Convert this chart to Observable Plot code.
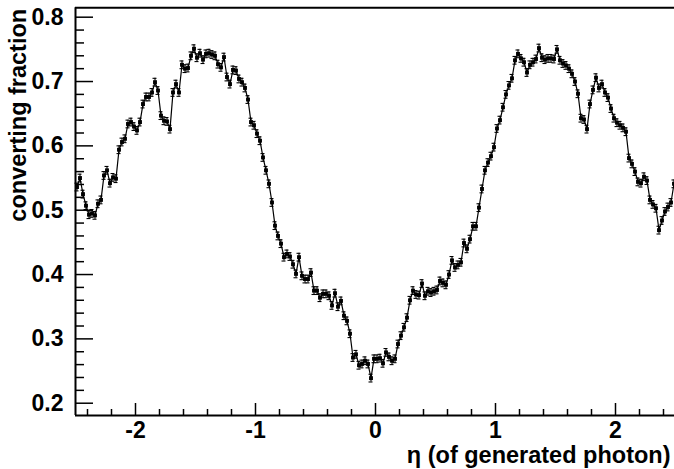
<!DOCTYPE html>
<html>
<head>
<meta charset="utf-8">
<script src="https://cdn.jsdelivr.net/npm/d3@7"></script>
<script src="https://cdn.jsdelivr.net/npm/@observablehq/plot@0.6"></script>
<style>
  html, body { margin: 0; padding: 0; background: #fff; overflow: hidden; }
  svg { display: block; }
</style>
</head>
<body>
<div id="chart"></div>
<script>
// Histogram binning in eta: 200 bins from -2.5 to 2.5
const binLow = -2.5;
const binWidth = 0.025;

// Converting fraction per eta bin
const fraction = [
  0.536, 0.550, 0.525, 0.507, 0.493, 0.495, 0.492, 0.510, 0.516, 0.554,
  0.562, 0.542, 0.551, 0.549, 0.594, 0.606, 0.611, 0.634, 0.637, 0.630,
  0.624, 0.637, 0.665, 0.676, 0.676, 0.683, 0.699, 0.686, 0.647, 0.639,
  0.638, 0.626, 0.683, 0.696, 0.683, 0.726, 0.720, 0.721, 0.740, 0.751,
  0.737, 0.744, 0.734, 0.743, 0.744, 0.742, 0.740, 0.727, 0.722, 0.738,
  0.707, 0.696, 0.718, 0.717, 0.704, 0.699, 0.690, 0.672, 0.637, 0.632,
  0.619, 0.608, 0.582, 0.562, 0.541, 0.512, 0.476, 0.460, 0.448, 0.427,
  0.432, 0.428, 0.416, 0.401, 0.427, 0.398, 0.393, 0.393, 0.403, 0.375,
  0.375, 0.364, 0.370, 0.370, 0.367, 0.352, 0.371, 0.350, 0.359, 0.336,
  0.328, 0.308, 0.271, 0.276, 0.259, 0.261, 0.266, 0.261, 0.239, 0.269,
  0.269, 0.270, 0.262, 0.279, 0.272, 0.266, 0.269, 0.292, 0.305, 0.318,
  0.333, 0.360, 0.375, 0.369, 0.368, 0.386, 0.367, 0.374, 0.372, 0.374,
  0.376, 0.390, 0.387, 0.384, 0.400, 0.422, 0.411, 0.415, 0.419, 0.449,
  0.440, 0.455, 0.475, 0.475, 0.504, 0.533, 0.562, 0.574, 0.584, 0.598,
  0.627, 0.640, 0.660, 0.680, 0.694, 0.705, 0.733, 0.743, 0.736, 0.730,
  0.714, 0.726, 0.730, 0.735, 0.752, 0.737, 0.734, 0.736, 0.736, 0.735,
  0.750, 0.733, 0.728, 0.725, 0.720, 0.712, 0.700, 0.681, 0.643, 0.641,
  0.626, 0.665, 0.687, 0.706, 0.690, 0.696, 0.683, 0.675, 0.658, 0.643,
  0.636, 0.632, 0.628, 0.622, 0.581, 0.572, 0.560, 0.544, 0.542, 0.552,
  0.546, 0.516, 0.509, 0.503, 0.469, 0.484, 0.498, 0.505, 0.512, 0.541
];

// Statistical uncertainty (half-width of the error bars)
const errHalf = 0.006;

// Axis ticks
const xMajor = [-2, -1, 0, 1, 2];
const xMinor = [-2.4, -2.2, -1.8, -1.6, -1.4, -1.2, -0.8, -0.6, -0.4, -0.2,
                0.2, 0.4, 0.6, 0.8, 1.2, 1.4, 1.6, 1.8, 2.2, 2.4];
const yMajor = [0.2, 0.3, 0.4, 0.5, 0.6, 0.7, 0.8];
const yMinor = [0.22, 0.24, 0.26, 0.28, 0.32, 0.34, 0.36, 0.38, 0.42, 0.44, 0.46, 0.48,
                0.52, 0.54, 0.56, 0.58, 0.62, 0.64, 0.66, 0.68, 0.72, 0.74, 0.76, 0.78];

const xTitle = "η (of generated photon)";
const yTitle = "converting fraction";

const points = fraction.map((v, i) => ({eta: binLow + binWidth * (i + 0.5), v}));

const width = 674, height = 469;
const marginTop = 7.3, marginBottom = 54, marginLeft = 75;
const xDomain = [-2.5, 2.5];
const yDomain = [0.1809, 0.8146];

// pixel -> data conversions for inward tick lengths
const xPerPx = (xDomain[1] - xDomain[0]) / 600;
const yPerPx = (yDomain[1] - yDomain[0]) / (height - marginTop - marginBottom);

const font = {fontFamily: "'Liberation Sans', Arial, Helvetica, sans-serif", fontWeight: "bold", fill: "black"};

const chart = Plot.plot({
  width, height,
  marginTop, marginBottom, marginLeft, marginRight: 0,
  x: {domain: xDomain, range: [marginLeft, marginLeft + 600], axis: null},
  y: {domain: yDomain, axis: null},
  marks: [
    // x-axis ticks (inside the frame)
    Plot.ruleX(xMajor, {x: d => d, y1: yDomain[0], y2: yDomain[0] + 12 * yPerPx, stroke: "black", strokeWidth: 1.5}),
    Plot.ruleX(xMinor, {x: d => d, y1: yDomain[0], y2: yDomain[0] + 6 * yPerPx, stroke: "black", strokeWidth: 1.5}),
    // y-axis ticks (inside the frame)
    Plot.ruleY(yMajor, {y: d => d, x1: xDomain[0], x2: xDomain[0] + 18 * xPerPx, stroke: "black", strokeWidth: 1.5}),
    Plot.ruleY(yMinor, {y: d => d, x1: xDomain[0], x2: xDomain[0] + 9 * xPerPx, stroke: "black", strokeWidth: 1.5}),
    // frame
    Plot.ruleX([xDomain[0], xDomain[1]], {stroke: "black", strokeWidth: 2}),
    Plot.ruleY([yDomain[0], yDomain[1]], {stroke: "black", strokeWidth: 2}),
    // curve through the bin contents
    Plot.line(points, {x: "eta", y: "v", stroke: "black", strokeWidth: 1.2}),
    // error bars with caps
    Plot.ruleX(points, {x: "eta", y1: d => d.v - errHalf, y2: d => d.v + errHalf, stroke: "black", strokeWidth: 1.1}),
    Plot.ruleY(points, {y: d => d.v + errHalf, x1: d => d.eta - 2 * xPerPx, x2: d => d.eta + 2 * xPerPx, stroke: "black", strokeWidth: 1.1}),
    Plot.ruleY(points, {y: d => d.v - errHalf, x1: d => d.eta - 2 * xPerPx, x2: d => d.eta + 2 * xPerPx, stroke: "black", strokeWidth: 1.1}),
    // markers
    Plot.dot(points, {x: "eta", y: "v", symbol: "square", r: 2.2, fill: "black", stroke: null}),
    // tick labels
    Plot.text(yMajor, {y: d => d, text: d => d.toFixed(1), frameAnchor: "left", dx: -12, textAnchor: "end", lineAnchor: "middle", fontSize: 23, ...font}),
    Plot.text(xMajor, {x: d => d, text: d => String(d), frameAnchor: "bottom", dy: 15, lineAnchor: "middle", fontSize: 23, ...font}),
    // axis titles
    Plot.text([xTitle], {frameAnchor: "bottom-right", dx: -4, dy: 40, textAnchor: "end", lineAnchor: "middle", fontSize: 23.5, ...font}),
    Plot.text([yTitle], {frameAnchor: "top-left", dx: -57, dy: 1, rotate: -90, textAnchor: "end", lineAnchor: "middle", fontSize: 23.5, ...font})
  ]
});

document.getElementById("chart").appendChild(chart);
</script>
</body>
</html>
